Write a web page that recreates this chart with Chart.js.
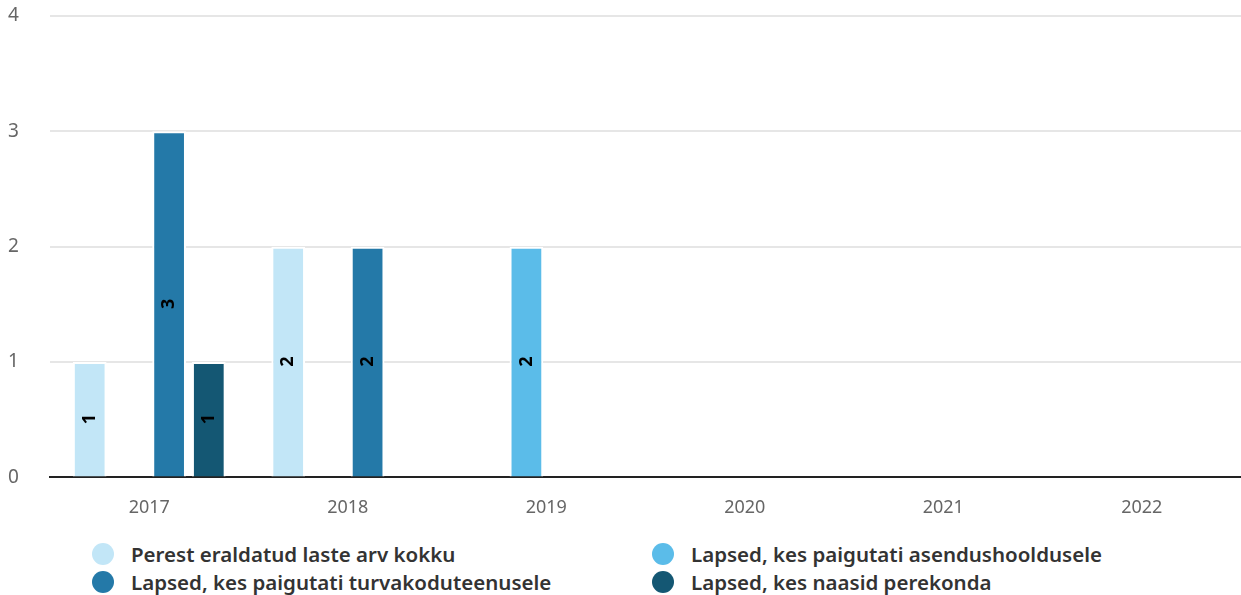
<!doctype html>
<html lang="et">
<head>
<meta charset="utf-8">
<title>Perest eraldatud lapsed</title>
<script src="https://cdn.jsdelivr.net/npm/chart.js@4/dist/chart.umd.min.js"></script>
<style>
	body { margin: 0; background: #fff; font-family: "Noto Sans", sans-serif; }
	#wrap { position: relative; width: 1241px; height: 530px; }
	#legend { display: grid; grid-template-columns: 560px 560px; padding-left: 92px; margin-top: 10px; }
	.item { display: flex; align-items: center; height: 28px; font-size: 20.5px; font-weight: 600; color: #333; }
	.dot { width: 22px; height: 22px; border-radius: 50%; margin-right: 17px; flex: none; }
</style>
</head>
<body>
<div id="wrap"><canvas id="myChart"></canvas></div>
<div id="legend"></div>

<script>
// categories and series
var years = ['2017', '2018', '2019', '2020', '2021', '2022'];
var seriesNames = [
	'Perest eraldatud laste arv kokku',
	'Lapsed, kes paigutati asendushooldusele',
	'Lapsed, kes paigutati turvakoduteenusele',
	'Lapsed, kes naasid perekonda'
];
var kokku      = [1, 2, 0, 0, 0, 0];
var asendus    = [0, 0, 2, 0, 0, 0];
var turvakodu  = [3, 2, 0, 0, 0, 0];
var naasid     = [1, 0, 0, 0, 0, 0];
var yTicks     = [0, 1, 2, 3, 4];
var colors = ['#c2e6f7', '#5bbce9', '#2479a8', '#145773'];

var seriesData = [kokku, asendus, turvakodu, naasid];

// labels drawn vertically in middle of bars
var barLabels = {
	id: 'barLabels',
	afterDatasetsDraw: function(chart) {
		var ctx = chart.ctx;
		chart.data.datasets.forEach(function(ds, i) {
			var meta = chart.getDatasetMeta(i);
			meta.data.forEach(function(bar, j) {
				var v = ds.data[j];
				if (!v) return;
				var y = (bar.y + bar.base) / 2;
				ctx.save();
				ctx.translate(bar.x, y);
				ctx.rotate(-Math.PI / 2);
				ctx.font = 'bold 18px "Noto Sans"';
				ctx.fillStyle = '#000';
				ctx.textAlign = 'center';
				ctx.textBaseline = 'middle';
				ctx.fillText(String(v), 0, 0);
				ctx.restore();
			});
		});
	}
};

var datasets = seriesData.map(function(d, i) {
	return {
		label: seriesNames[i],
		data: d,
		backgroundColor: colors[i],
		borderColor: '#fff',
		borderWidth: 2,
		borderSkipped: 'bottom',
		categoryPercentage: 0.8,
		barPercentage: 0.85
	};
});

var ctx = document.getElementById('myChart').getContext('2d');
var chart = new Chart(ctx, {
	type: 'bar',
	data: { labels: years, datasets: datasets },
	plugins: [barLabels],
	options: {
		responsive: true,
		maintainAspectRatio: false,
		animation: false,
		layout: { padding: { top: 16, left: 8, right: 0, bottom: -9 } },
		plugins: {
			legend: { display: false },
			tooltip: { enabled: false }
		},
		scales: {
			x: {
				grid: { display: false, drawTicks: false },
				border: { color: '#222', width: 2 },
				ticks: { color: '#666', padding: 20, font: { size: 18, family: 'Noto Sans' } }
			},
			y: {
				min: 0,
				max: 4,
				afterBuildTicks: function(axis) {
					axis.ticks = yTicks.map(function(v) { return { value: v }; });
				},
				afterFit: function(axis) { axis.width = 42; },
				grid: { color: '#e6e6e6', lineWidth: 2, drawTicks: false },
				border: { display: false },
				ticks: { color: '#666', crossAlign: 'far', padding: 0, font: { size: 19, family: 'Noto Sans' } }
			}
		}
	}
});

// legend in two columns
var html = '';
seriesNames.forEach(function(name, i) {
	html += '<div class="item"><span class="dot" style="background:' + colors[i] + '"></span>' + name + '</div>';
});
document.getElementById('legend').innerHTML = html;
</script>
</body>
</html>
